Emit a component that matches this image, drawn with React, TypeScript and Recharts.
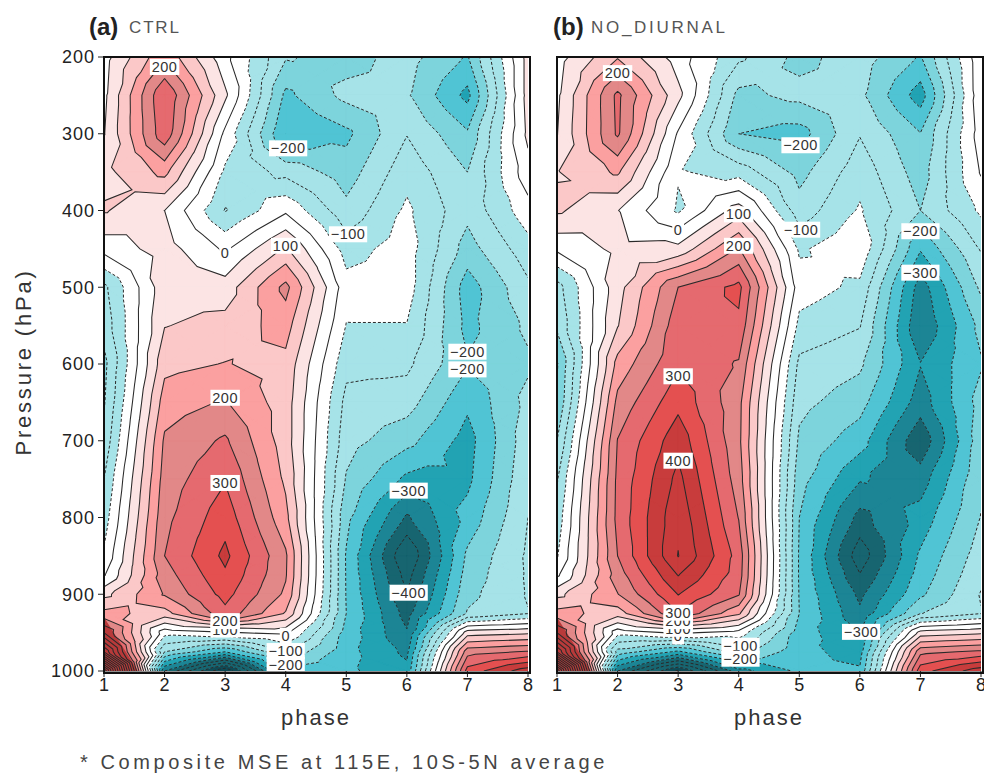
import { ScatterChart, Scatter, XAxis, YAxis } from "recharts";

const phases = [1, 2, 3, 4, 5, 6, 7, 8];
const pressures = [200, 250, 300, 350, 400, 450, 500, 550, 600, 650, 700, 750, 800, 850, 875, 900, 925, 950, 975, 1000];
const pressureTicks = [200, 300, 400, 500, 600, 700, 800, 900, 1000];

// composite MSE, one list per phase, top to bottom
const ctrlPhase1 = [30, 38, 47, 85, 105, 18, -112, -130, -165, -155, -135, -100, -75, -42, -5, 85, 165, 300, 500, 950];
const ctrlPhase2 = [190, 297, 285, 165, 50, 72, 82, 98, 135, 175, 208, 222, 236, 250, 228, 205, 130, -30, -150, -350];
const ctrlPhase3 = [15, 60, -12, -60, -103, -8, 73, 118, 152, 205, 258, 296, 330, 362, 342, 318, 285, -5, -250, -600];
const ctrlPhase4 = [-145, -212, -250, -115, -9, 108, 215, 172, 135, 125, 125, 140, 165, 208, 205, 190, 145, 15, -103, -210];
const ctrlPhase5 = [-170, -135, -212, -176, -135, -72, -30, -52, -85, -115, -130, -155, -185, -205, -204, -203, -200, -220, -232, -240];
const ctrlPhase6 = [-130, -143, -102, -68, -40, -25, -25, -52, -88, -128, -184, -262, -358, -450, -420, -398, -370, -345, -312, -285];
const ctrlPhase7 = [-205, -265, -193, -150, -135, -172, -225, -215, -195, -240, -270, -262, -232, -190, -178, -165, -145, 75, 230, 320];
const ctrlPhase8 = [70, 70, 62, 30, -20, -70, -110, -140, -158, -135, -120, -110, -100, -92, -94, -96, -102, 90, 255, 430];

const noDiurnalPhase1 = [28, 40, 48, 97, 108, 10, -120, -140, -205, -195, -150, -105, -80, -55, -10, 85, 170, 300, 500, 950];
const noDiurnalPhase2 = [145, 262, 258, 158, 52, 62, 80, 97, 168, 215, 252, 262, 265, 250, 225, 198, 125, -30, -170, -350];
const noDiurnalPhase3 = [25, 65, -6, -45, -58, 65, 250, 280, 292, 335, 382, 415, 438, 452, 402, 352, 298, 10, -260, -560];
const noDiurnalPhase4 = [-90, -165, -200, -70, 75, 205, 315, 288, 245, 215, 212, 225, 248, 280, 275, 255, 160, -20, -125, -320];
const noDiurnalPhase5 = [-165, -135, -222, -167, -128, -58, -25, -65, -112, -135, -160, -180, -200, -206, -206, -203, -200, -225, -235, -240];
const noDiurnalPhase6 = [-125, -138, -103, -70, -44, -10, -62, -97, -140, -180, -228, -295, -367, -430, -397, -362, -340, -300, -270, -243];
const noDiurnalPhase7 = [-205, -275, -198, -175, -150, -245, -325, -345, -298, -325, -388, -325, -280, -242, -228, -210, -152, 70, 235, 330];
const noDiurnalPhase8 = [38, 36, 25, 5, -40, -95, -140, -185, -205, -180, -170, -160, -148, -125, -112, -97, -102, 90, 260, 430];

const ctrlColumns = [ctrlPhase1, ctrlPhase2, ctrlPhase3, ctrlPhase4, ctrlPhase5, ctrlPhase6, ctrlPhase7, ctrlPhase8];
const noDiurnalColumns = [noDiurnalPhase1, noDiurnalPhase2, noDiurnalPhase3, noDiurnalPhase4, noDiurnalPhase5, noDiurnalPhase6, noDiurnalPhase7, noDiurnalPhase8];

// dark wedge in the lower left corner of both panels
const cornerPhases = [1, 1, 1.56];
const cornerPressures = [930, 1000, 1000];

// contour labels: text, phase, pressure
const ctrlLabels: [string, number, number][] = [
  ["200", 2, 213], ["−200", 4.04, 319], ["−100", 5.03, 431], ["0", 3, 455], ["100", 4, 446],
  ["200", 3, 644], ["300", 3, 755], ["100", 3, 946], ["200", 3, 935], ["0", 4, 954],
  ["−100", 4, 974], ["−200", 4, 992], ["−300", 6.03, 765], ["−400", 6.03, 898],
  ["−200", 7, 584], ["−200", 7, 607],
];
const noDiurnalLabels: [string, number, number][] = [
  ["200", 2, 221], ["−200", 5.02, 315], ["−100", 5.03, 425], ["0", 3, 425], ["100", 4, 405],
  ["200", 4, 446], ["300", 3, 616], ["400", 3, 726], ["0", 3, 955], ["100", 3, 945],
  ["200", 3, 935], ["300", 3, 924], ["−100", 4.03, 967], ["−200", 4.03, 984],
  ["−200", 7, 427], ["−300", 7, 481], ["−300", 6.02, 949],
];

const shadeLevels = [-9999, -500, -350, -300, -250, -200, -150, -50, 50, 100, 150, 200, 250, 300, 350, 500, 9999];
const shadeColors = [
  "#0f4c58", "#176570", "#1c8595", "#22a3b3", "#50c4d4", "#7dd4dc", "#a6e3e8", "#ffffff",
  "#fce4e4", "#fbc8c8", "#fba0a0", "#e28888", "#e56a6f", "#e45050", "#c83c3c", "#a82c2c",
];
const contourLevels: number[] = [];
for (let l = -650; l <= 950; l += 50) contourLevels.push(l);

type V = { x: number; y: number; v: number };
type P = { phase: number; p: number };

function triangles(columns: number[][]) {
  const out: V[][] = [];
  for (let i = 0; i < phases.length - 1; i++) {
    for (let j = 0; j < pressures.length - 1; j++) {
      const a = { x: phases[i], y: pressures[j], v: columns[i][j] };
      const b = { x: phases[i + 1], y: pressures[j], v: columns[i + 1][j] };
      const c = { x: phases[i + 1], y: pressures[j + 1], v: columns[i + 1][j + 1] };
      const d = { x: phases[i], y: pressures[j + 1], v: columns[i][j + 1] };
      const m = { x: (a.x + b.x) / 2, y: (a.y + d.y) / 2, v: (a.v + b.v + c.v + d.v) / 4 };
      out.push([a, b, m], [b, c, m], [c, d, m], [d, a, m]);
    }
  }
  return out;
}

const cross = (a: V, b: V, level: number): V => {
  const t = (level - a.v) / (b.v - a.v);
  return { x: a.x + (b.x - a.x) * t, y: a.y + (b.y - a.y) * t, v: level };
};

function clip(poly: V[], level: number, above: boolean) {
  const res: V[] = [];
  poly.forEach((a, i) => {
    const b = poly[(i + 1) % poly.length];
    const ina = above ? a.v >= level : a.v <= level;
    const inb = above ? b.v >= level : b.v <= level;
    if (ina) res.push(a);
    if (ina !== inb) res.push(cross(a, b, level));
  });
  return res;
}

// flat point list for one shade band plus the size of each polygon
function bandPolygons(tris: V[][], lo: number, hi: number) {
  const data: P[] = [];
  const sizes: number[] = [];
  tris.forEach((t) => {
    const poly = clip(clip(t, lo, true), hi, false);
    if (poly.length < 3) return;
    poly.forEach((q) => data.push({ phase: q.x, p: q.y }));
    sizes.push(poly.length);
  });
  return { data, sizes };
}

// contour segments chained into polylines so the dashes run on
function contourLines(tris: V[][], rawLevel: number) {
  const level = rawLevel + 0.01;
  const key = (q: V) => q.x.toFixed(5) + "," + q.y.toFixed(5);
  const segs: [V, V][] = [];
  tris.forEach((t) => {
    const hits: V[] = [];
    t.forEach((a, i) => {
      const b = t[(i + 1) % 3];
      if (a.v >= level !== b.v >= level) hits.push(cross(a, b, level));
    });
    if (hits.length === 2) segs.push([hits[0], hits[1]]);
  });
  const byEnd = new Map<string, number[]>();
  segs.forEach((s, i) => {
    s.forEach((q) => {
      const k = key(q);
      if (!byEnd.has(k)) byEnd.set(k, []);
      byEnd.get(k)!.push(i);
    });
  });
  const used = segs.map(() => false);
  const walk = (start: number, from: V) => {
    const line: V[] = [from];
    let cur = start;
    let tip = from;
    while (cur >= 0) {
      used[cur] = true;
      const s = segs[cur];
      tip = key(s[0]) === key(tip) ? s[1] : s[0];
      line.push(tip);
      const next = (byEnd.get(key(tip)) || []).find((n) => !used[n]);
      cur = next === undefined ? -1 : next;
    }
    return line;
  };
  const data: P[] = [];
  const sizes: number[] = [];
  const push = (line: V[]) => {
    line.forEach((q) => data.push({ phase: q.x, p: q.y }));
    sizes.push(line.length);
  };
  // open lines first, they start at a panel edge
  segs.forEach((s, i) => {
    if (used[i]) return;
    const end = s.find((q) => byEnd.get(key(q))!.length === 1);
    if (end) push(walk(i, end));
  });
  segs.forEach((s, i) => {
    if (!used[i]) push(walk(i, s[0]));
  });
  return { data, sizes };
}

function groupedPath(points: { x: number; y: number }[], sizes: number[], close: boolean) {
  let d = "";
  let at = 0;
  sizes.forEach((n) => {
    for (let i = 0; i < n; i++) {
      const q = points[at + i];
      d += (i === 0 ? "M" : "L") + q.x.toFixed(2) + " " + q.y.toFixed(2);
    }
    if (close) d += "Z";
    at += n;
  });
  return d;
}

const noDot = () => <g />;

function ContourLabel(props: any) {
  const text = props.payload.text;
  const w = text.length * 8.8 + 3;
  return (
    <g>
      <rect x={props.cx - w / 2} y={props.cy - 8} width={w} height={16} fill="#fff" />
      <text x={props.cx} y={props.cy + 5} textAnchor="middle" fontSize={14.5} letterSpacing={0.5} fill="#333" fontFamily="Liberation Sans">
        {text}
      </text>
    </g>
  );
}

function Panel({ columns, labels, left, width, marginLeft, marginRight, showY }: {
  columns: number[][];
  labels: [string, number, number][];
  left: number;
  width: number;
  marginLeft: number;
  marginRight: number;
  showY: boolean;
}) {
  const tris = triangles(columns);
  const labelData = labels.map(([text, phase, p]) => ({ text, phase, p }));
  const cornerData = cornerPhases.map((phase, i) => ({ phase, p: cornerPressures[i] }));
  return (
    <div style={{ position: "absolute", left, top: 0 }}>
      <ScatterChart width={width} height={740} margin={{ top: 57, right: marginRight, bottom: 39, left: marginLeft }}>
        <XAxis
          type="number"
          dataKey="phase"
          domain={[1, 8]}
          ticks={phases}
          allowDataOverflow
          height={30}
          tickSize={6}
          tickMargin={1}
          interval={0}
          stroke="#222"
          tick={{ fontSize: 18, fill: "#222", fontFamily: "Liberation Sans" }}
          label={{ value: "phase", position: "insideBottom", offset: -24, fontSize: 22, letterSpacing: 2, fill: "#333", fontFamily: "Liberation Sans" }}
        />
        <YAxis
          type="number"
          dataKey="p"
          domain={[200, 1000]}
          ticks={pressureTicks}
          reversed
          allowDataOverflow
          hide={!showY}
          width={50}
          tickSize={6}
          tickMargin={3}
          interval={0}
          stroke="#222"
          tick={{ fontSize: 18, letterSpacing: 1, fill: "#222", fontFamily: "Liberation Sans" }}
        />
        {shadeColors.map((color, i) => {
          const { data, sizes } = bandPolygons(tris, shadeLevels[i], shadeLevels[i + 1]);
          if (!data.length) return null;
          return (
            <Scatter
              key={"band" + i}
              data={data}
              shape={noDot}
              isAnimationActive={false}
              line={(l: any) => <path d={groupedPath(l.points, sizes, true)} fill={color} stroke={color} strokeWidth={0.6} />}
            />
          );
        })}
        <Scatter
          data={cornerData}
          shape={noDot}
          isAnimationActive={false}
          line={(l: any) => <path d={groupedPath(l.points, [cornerData.length], true)} fill="#b83a3a" />}
        />
        {contourLevels.map((level) => {
          const { data, sizes } = contourLines(tris, level);
          if (!data.length) return null;
          return (
            <Scatter
              key={"line" + level}
              data={data}
              shape={noDot}
              isAnimationActive={false}
              line={(l: any) => (
                <path
                  d={groupedPath(l.points, sizes, false)}
                  fill="none"
                  stroke="#2a2a2a"
                  strokeWidth={level < 0 ? 1 : 1.05}
                  strokeDasharray={level < 0 ? "3 2" : undefined}
                />
              )}
            />
          );
        })}
        <Scatter data={labelData} shape={ContourLabel} isAnimationActive={false} />
      </ScatterChart>
    </div>
  );
}

const textBase = { position: "absolute", fontFamily: "Liberation Sans", whiteSpace: "nowrap", lineHeight: 1 } as const;
const frameBase = { position: "absolute", top: 56, width: 424, height: 614, border: "2px solid #111", pointerEvents: "none" } as const;

export default function App() {
  return (
    <div style={{ position: "absolute", left: 0, top: 0, width: 984, height: 774, overflow: "hidden", background: "#fff" }}>
      <Panel columns={ctrlColumns} labels={ctrlLabels} left={0} width={540} marginLeft={54} marginRight={12} showY />
      <Panel columns={noDiurnalColumns} labels={noDiurnalLabels} left={500} width={484} marginLeft={57} marginRight={3} showY={false} />
      <div style={{ ...frameBase, left: 103 }} />
      <div style={{ ...frameBase, left: 556 }} />

      <div style={{ ...textBase, left: 89, top: 15, fontSize: 24, fontWeight: 700, color: "#222" }}>(a)</div>
      <div style={{ ...textBase, left: 129, top: 19, fontSize: 17, color: "#555", letterSpacing: 1.85 }}>CTRL</div>
      <div style={{ ...textBase, left: 553, top: 15, fontSize: 24, fontWeight: 700, color: "#222" }}>(b)</div>
      <div style={{ ...textBase, left: 591, top: 19, fontSize: 17, color: "#555", letterSpacing: 2.7 }}>NO_DIURNAL</div>
      <div style={{ ...textBase, left: -86, top: 351, width: 220, textAlign: "center", fontSize: 22, letterSpacing: 2.8, color: "#333", transform: "rotate(-90deg)" }}>
        Pressure (hPa)
      </div>
      <div style={{ ...textBase, left: 80, top: 752, fontSize: 20, letterSpacing: 3.6, color: "#444" }}>
        * Composite MSE at 115E, 10S-5N average
      </div>
    </div>
  );
}
